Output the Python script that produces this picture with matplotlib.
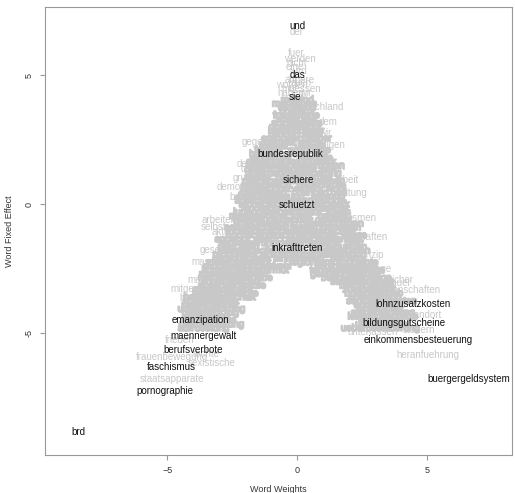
import matplotlib
matplotlib.use("Agg")
import matplotlib.pyplot as plt
import matplotlib.patheffects as pe

plt.rcParams['font.family'] = ['Liberation Sans', 'DejaVu Sans']

GREY = "#c8c8c8"

# highlighted words (black)
black_words = ["und", "das", "sie", "bundesrepublik", "sichere", "schuetzt",
               "inkrafttreten", "lohnzusatzkosten", "bildungsgutscheine",
               "einkommensbesteuerung", "buergergeldsystem", "emanzipation",
               "maennergewalt", "berufsverbote", "faschismus", "pornographie", "brd"]
black_x = [0.0, 0.0, -0.1, -0.27, 0.04, 0.0, 0.0, 4.46, 4.1, 4.65, 6.6,
           -3.7, -3.6, -4.0, -4.85, -5.1, -8.4]
black_y = [6.9, 5.0, 4.15, 1.94, 0.93, -0.04, -1.7, -3.88, -4.6, -5.27, -6.8,
           -4.5, -5.1, -5.66, -6.3, -7.25, -8.84]

# dense core of the cloud, one line per row
core_words = [
    "mehr", "sind", "menschen", "wird", "land", "politik", "zur",
    "frauen", "neue", "arbeit", "alle", "sozialen", "dem",
    "unsere", "recht", "bund", "kinder", "wir", "bildung", "staat",
    "europa", "rechte", "ueber", "zukunft", "werte", "freiheit", "umwelt",
    "familie", "schutz", "hilfe", "buerger", "wege", "ziel",
    "sicherheit", "laender", "gesetz", "regierung", "stark",
    "verantwortung", "kommunen", "demokratie", "jahre", "weit",
    "unternehmen", "foerderung", "steuer", "renten", "arbeit",
    "pflege", "gesundheit", "rahmen", "integration", "bereich", "kurs",
    "klimaschutz", "verkehr", "wohl", "mittelstand", "chancen", "bau",
    "beschaeftigung", "leistung", "finanzen", "wettbewerb", "reform",
    "technologie", "innovation", "mark", "landwirtschaft", "verbraucher",
    "jugend", "senioren", "kultur", "ideen",
    "medien", "polizei", "justiz", "partner",
    "verwaltung", "chancen", "qualitaet",
    "unterstuetzung", "beteiligung", "eigen",
    "selbst", "gleichstellung", "einkommen", "lohn",
    "industrie", "handwerk", "wissenschaft",
    "hochschulen", "schulen", "lehrer", "kasse",
    "angebot", "eltern", "vielfalt", "solidaritaet",
    "verbesserung", "ziele", "grundlage", "pakt",
    "geld", "weg", "bedingungen",
    "gesetze", "moeglichkeiten", "massnahmen",
    "programm", "aufgaben", "mitbestimmung",
    "gerechtigkeit", "jahre", "kosten", "steuern",
    "maschinen", "stadt", "region", "versorgung", "rente",
    "mobilitaet", "bundeswehr", "vorsorge", "lasten",
    "konzerne", "abbau", "armut", "tarif", "vertraege", "anlage",
    "maerkte", "initiativen", "gebuehren", "ausbau",
    "macht", "regeln", "teilhabe", "beitraege", "nachfrage",
    "kontrolle", "leben", "staedte", "abgaben",
    "erwerbslose", "stufe", "betriebe", "markt",
    "mitglieder", "armut", "zulagen", "selbst",
    "bedarf", "beschaeftigte", "branchen", "betrieb",
    "bedingung", "gewerkschaft", "absicherung",
    "kriegseinsatz", "sanktionen", "lohnkosten",
    "rassismus", "teilzeit", "anreize", "hartz",
    "unterdrueckung", "entlastung",
    "gewalt", "rueckzug", "steuersenkung",
    "widerstand", "leistungsanreize",
    "frauenrechte", "wachstum",
    "diskriminierung", "unternehmer",
    "aufruestung", "ueberbesteuerung",
]
core_x = [
    -0.2, 0.3, -0.1, -0.4, 0.35, -0.2, 0.45,
    -0.4, 0.45, -0.35, 0.45, -0.3, 0.6,
    -0.5, 0.5, -0.7, 0.1, 0.8, -0.5, 0.6,
    -0.8, 0.2, 0.85, -0.7, 0.5, -0.9, 0.5,
    -1.1, 0.2, 0.95, -1.2, 0.0, 0.9,
    -1.0, 0.7, -1.4, -0.1, 1.1,
    -0.7, 0.9, -1.1, 0.3, 1.2,
    -0.9, 0.8, -1.5, -0.3, 0.9,
    -1.6, -0.2, 1.2, -1.1, 0.6, 1.5,
    -1.2, 0.4, 1.5, -1.3, 0.5, 1.6,
    -1.0, 1.2, -1.7, -0.2, 1.3,
    -1.3, 0.6, 1.6, -1.0, 1.0,
    -1.9, -0.7, 0.5, 1.6,
    -2.0, -0.9, 0.2, 1.4,
    -1.6, -0.1, 1.4,
    -1.2, 1.0, 2.1,
    -2.3, -0.9, 1.0, 2.1,
    -2.0, -0.5, 1.2,
    -1.7, -0.1, 1.1, 2.2,
    -2.5, -1.2, 0.1, 1.6,
    -1.9, -0.4, 0.8, 2.2,
    -2.7, -1.8, 1.6,
    -2.4, -0.9, 1.7,
    -2.4, -0.6, 1.4,
    -2.2, -0.5, 0.5, 1.9,
    -2.6, -1.4, 0.2, 1.6, 2.7,
    -2.8, -1.2, 1.4, 2.6,
    -2.9, -1.7, -0.8, 0.8, 1.9, 2.8,
    -3.1, -1.9, 1.4, 2.6,
    -3.3, -2.5, -1.6, 1.7, 2.8,
    -3.0, -1.9, 1.9, 3.0,
    -2.8, -1.6, 2.3, 3.2,
    -3.2, -2.2, 2.4, 3.3,
    -3.5, -2.6, 2.6, 3.5,
    -3.5, -2.7, 3.0,
    -3.3, 2.8, 3.7,
    -3.6, -2.8, 2.8, 3.7,
    -3.3, 3.2,
    -3.9, -3.0, 3.3,
    -3.5, 3.3,
    -3.4, 3.2,
    -3.3, 3.3,
    -3.6, 3.2,
]
core_y = [
    4.05, 4.05, 3.9, 3.75, 3.75, 3.6, 3.6,
    3.45, 3.45, 3.3, 3.3, 3.15, 3.15,
    3.0, 3.0, 2.85, 2.85, 2.85, 2.7, 2.7,
    2.55, 2.55, 2.55, 2.4, 2.4, 2.25, 2.25,
    2.1, 2.1, 2.1, 1.95, 1.95, 1.95,
    1.8, 1.8, 1.65, 1.65, 1.65,
    1.5, 1.5, 1.35, 1.35, 1.35,
    1.2, 1.2, 1.05, 1.05, 1.05,
    0.9, 0.9, 0.9, 0.75, 0.75, 0.75,
    0.6, 0.6, 0.6, 0.45, 0.45, 0.45,
    0.3, 0.3, 0.15, 0.15, 0.15,
    0.0, 0.0, 0.0, -0.15, -0.15,
    -0.3, -0.3, -0.3, -0.3,
    -0.45, -0.45, -0.45, -0.45,
    -0.6, -0.6, -0.6,
    -0.75, -0.75, -0.75,
    -0.9, -0.9, -0.9, -0.9,
    -1.05, -1.05, -1.05,
    -1.2, -1.2, -1.2, -1.2,
    -1.35, -1.35, -1.35, -1.35,
    -1.5, -1.5, -1.5, -1.5,
    -1.65, -1.65, -1.65,
    -1.8, -1.8, -1.8,
    -1.95, -1.95, -1.95,
    -2.1, -2.1, -2.1, -2.1,
    -2.25, -2.25, -2.25, -2.25, -2.25,
    -2.4, -2.4, -2.4, -2.4,
    -2.55, -2.55, -2.55, -2.55, -2.55, -2.55,
    -2.7, -2.7, -2.7, -2.7,
    -2.85, -2.85, -2.85, -2.85, -2.85,
    -3.0, -3.0, -3.0, -3.0,
    -3.15, -3.15, -3.15, -3.15,
    -3.3, -3.3, -3.3, -3.3,
    -3.45, -3.45, -3.45, -3.45,
    -3.6, -3.6, -3.6,
    -3.75, -3.75, -3.75,
    -3.9, -3.9, -3.9, -3.9,
    -4.05, -4.05,
    -4.2, -4.2, -4.2,
    -4.35, -4.35,
    -4.5, -4.5,
    -4.65, -4.65,
    -4.8, -4.8,
]

# loose words around the core
outer_words = [
    "der", "fuer", "werden", "nicht", "eine", "wird", "andere", "zu",
    "worden", "auch", "muessen", "ist", "haben", "wir", "deutschland",
    "gegen", "debatte", "derzeit", "gruppe", "demokraten", "beschaeftigt",
    "arbeiten", "selbst", "aktiv", "gesetzlich", "massen", "macht",
    "mitgegeben", "bedarfe", "unterstellt",
    "frieden", "frauenbewegung", "rechte", "sexistische", "staatsapparate",
    "dem", "wir", "notwendigen", "kraft", "arbeit", "haltung",
    "kapitalismen", "gesellschaften", "prinzip", "lage", "sicher", "bauer",
    "genossenschaften", "standort", "steuern", "unterlassen", "heranfuehrung",
]
outer_x = [
    0.0, -0.05, 0.1, 0.0, -0.1, 0.05, 0.1, -0.15,
    -0.2, 0.15, 0.15, -0.2, -0.25, 0.3, 0.8,
    -1.6, -1.7, -1.6, -1.9, -2.1, -1.6,
    -3.0, -3.2, -2.9, -2.9, -3.4, -3.7,
    -3.9, -3.9, -3.8,
    -4.5, -4.8, -3.5, -3.3, -4.8,
    1.2, 1.1, 0.8, 1.5, 1.9, 2.1,
    2.0, 2.3, 2.8, 3.3, 4.0, 3.9,
    4.0, 4.9, 4.7, 2.9, 5.04,
]
outer_y = [
    6.68, 5.85, 5.62, 5.47, 5.3, 5.15, 4.8, 4.85,
    4.62, 4.7, 4.45, 4.5, 4.3, 4.3, 3.78,
    2.4, 1.55, 1.35, 1.0, 0.66, 0.27,
    -0.62, -0.9, -1.1, -1.8, -2.25, -2.95,
    -3.3, -3.65, -4.1,
    -5.27, -5.93, -5.8, -6.15, -6.78,
    3.2, 2.75, 2.3, 1.43, 0.93, 0.42,
    -0.55, -1.28, -1.98, -2.5, -2.95, -3.07,
    -3.33, -4.3, -4.9, -4.96, -5.85,
]

fig = plt.figure(figsize=(5.15, 4.93), dpi=100)
ax = fig.add_axes([45 / 515, 38 / 493, 467 / 515, 448 / 493])

blob = [pe.withStroke(linewidth=1.3, foreground=GREY)]
for w, x, y in zip(core_words, core_x, core_y):
    ax.text(x, y, w, ha="center", va="center", fontsize=7, color=GREY,
            path_effects=blob)
for w, x, y in zip(outer_words, outer_x, outer_y):
    ax.text(x, y, w, ha="center", va="center", fontsize=7, color=GREY)
for w, x, y in zip(black_words, black_x, black_y):
    ax.text(x, y, w, ha="center", va="center", fontsize=7, color="#111111")

ax.set_xlim(-9.7, 8.27)
ax.set_ylim(-9.73, 7.64)
ax.set_xticks([-5, 0, 5])
ax.set_yticks([-5, 0, 5])
ax.set_yticklabels(["-5", "0", "5"], rotation=90, va="center")
ax.tick_params(length=3.5, width=0.8, color="#999999", labelsize=6.5,
               labelcolor="#333333", pad=4.5)
for s in ax.spines.values():
    s.set_color("#999999")
    s.set_linewidth(0.8)
ax.set_xlabel("Word Weights", fontsize=6.5, color="#333333", labelpad=7)
ax.set_ylabel("Word Fixed Effect", fontsize=6.5, color="#333333", labelpad=8)

fig.savefig("out.png", dpi=100)
